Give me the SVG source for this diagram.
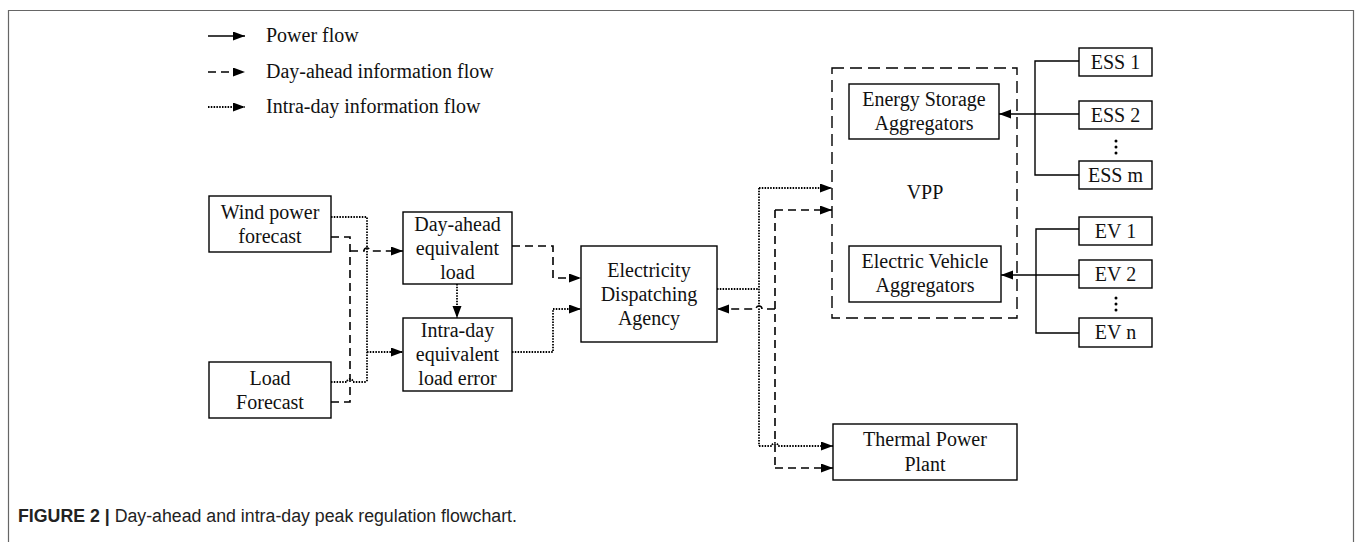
<svg xmlns="http://www.w3.org/2000/svg" width="1356" height="542" viewBox="0 0 1356 542">
<defs>
<marker id="ah" markerUnits="userSpaceOnUse" markerWidth="13" markerHeight="10" refX="12" refY="4.5" orient="auto">
<path d="M0,0 L12,4.5 L0,9 z" fill="#000"/>
</marker>
<style>
.box{fill:#fff;stroke:#000;stroke-width:1.4}
.t{font-family:"Liberation Serif","Times New Roman",serif;font-size:20px;fill:#111;text-anchor:middle}
.lt{font-family:"Liberation Serif","Times New Roman",serif;font-size:20px;fill:#111}
.solid{fill:none;stroke:#000;stroke-width:1.4}
.dash{fill:none;stroke:#000;stroke-width:1.6;stroke-dasharray:8 5}
.dot{fill:none;stroke:#000;stroke-width:1.8;stroke-dasharray:1.5 1.3}
.vpp{fill:none;stroke:#000;stroke-width:1.4;stroke-dasharray:12 6}
</style>
</defs>
<rect width="1356" height="542" fill="#fff"/>
<path d="M8.5,560 V10.5 H1353.5 V560" fill="none" stroke="#666" stroke-width="1.2"/>

<g id="legend">
<line class="solid" x1="208" y1="36" x2="245" y2="36" marker-end="url(#ah)"/>
<text class="lt" x="266" y="42">Power flow</text>
<line class="dash" x1="208" y1="72" x2="245" y2="72" marker-end="url(#ah)"/>
<text class="lt" x="266" y="78">Day-ahead information flow</text>
<line class="dot" x1="208" y1="107" x2="245" y2="107" marker-end="url(#ah)"/>
<text class="lt" x="266" y="113">Intra-day information flow</text>
</g>

<g id="connectors">
<path class="dot" d="M331,217 H367 V382"/>
<path class="dot" d="M331,382 H347 A3,3 0 0 1 353,382 H367"/>
<path class="dot" d="M367,352 H403" marker-end="url(#ah)"/>
<path class="dash" d="M331,237 H350 V402 H331"/>
<path class="dash" d="M350,251 H364 A3,3 0 0 1 370,251 H403" marker-end="url(#ah)"/>
<path class="dot" d="M457,284 V318" marker-end="url(#ah)"/>
<path class="dash" d="M512,246 H553 V278 H581" marker-end="url(#ah)"/>
<path class="dot" d="M512,352 H553 V309 H581" marker-end="url(#ah)"/>
<path class="dot" d="M717,289 H759"/>
<path class="dot" d="M759,188 V446"/>
<path class="dot" d="M759,188 H832" marker-end="url(#ah)"/>
<path class="dot" d="M759,446 H772 A3,3 0 0 1 778,446 H833" marker-end="url(#ah)"/>
<path class="dash" d="M775,210 V468"/>
<path class="dash" d="M775,210 H832" marker-end="url(#ah)"/>
<path class="dash" d="M775,468 H833" marker-end="url(#ah)"/>
<path class="dash" d="M775,309 H762 A3,3 0 0 0 756,309 H717" marker-end="url(#ah)"/>
<path class="solid" d="M1079,61 H1035 V175 H1079"/>
<path class="solid" d="M1079,114 H999" marker-end="url(#ah)"/>
<path class="solid" d="M1079,229 H1036 V333 H1079"/>
<path class="solid" d="M1079,275 H1001" marker-end="url(#ah)"/>
</g>

<g id="wind">
<rect class="box" x="209" y="196" width="122" height="56"/>
<text class="t" x="270" y="219">Wind power</text>
<text class="t" x="270" y="243">forecast</text>
</g>
<g id="load">
<rect class="box" x="209" y="362" width="122" height="56"/>
<text class="t" x="270" y="385">Load</text>
<text class="t" x="270" y="409">Forecast</text>
</g>
<g id="dayahead">
<rect class="box" x="403" y="212" width="109" height="72"/>
<text class="t" x="457.5" y="231">Day-ahead</text>
<text class="t" x="457.5" y="255">equivalent</text>
<text class="t" x="457.5" y="279">load</text>
</g>
<g id="intraday">
<rect class="box" x="403" y="318" width="109" height="73"/>
<text class="t" x="457.5" y="337">Intra-day</text>
<text class="t" x="457.5" y="361">equivalent</text>
<text class="t" x="457.5" y="385">load error</text>
</g>
<g id="eda">
<rect class="box" x="581" y="246" width="136" height="96"/>
<text class="t" x="649" y="277">Electricity</text>
<text class="t" x="649" y="301">Dispatching</text>
<text class="t" x="649" y="325">Agency</text>
</g>
<g id="vpp">
<rect class="vpp" x="832" y="68" width="185" height="250"/>
<text class="t" x="925" y="199">VPP</text>
</g>
<g id="esa">
<rect class="box" x="849" y="84" width="150" height="55"/>
<text class="t" x="924" y="106">Energy Storage</text>
<text class="t" x="924" y="130">Aggregators</text>
</g>
<g id="eva">
<rect class="box" x="849" y="246" width="152" height="56"/>
<text class="t" x="925" y="268">Electric Vehicle</text>
<text class="t" x="925" y="292">Aggregators</text>
</g>
<g id="ess1"><rect class="box" x="1079" y="48" width="73" height="28"/><text class="t" x="1115.5" y="69">ESS 1</text></g>
<g id="ess2"><rect class="box" x="1079" y="101" width="73" height="28"/><text class="t" x="1115.5" y="122">ESS 2</text></g>
<g id="essm"><rect class="box" x="1079" y="161" width="73" height="28"/><text class="t" x="1115.5" y="182">ESS m</text></g>
<g id="essdots" fill="#000"><circle cx="1116" cy="141" r="1.5"/><circle cx="1116" cy="147" r="1.5"/><circle cx="1116" cy="153" r="1.5"/></g>
<g id="ev1"><rect class="box" x="1079" y="217" width="73" height="28"/><text class="t" x="1115.5" y="238">EV 1</text></g>
<g id="ev2"><rect class="box" x="1079" y="260" width="73" height="28"/><text class="t" x="1115.5" y="281">EV 2</text></g>
<g id="evn"><rect class="box" x="1079" y="318" width="73" height="29"/><text class="t" x="1115.5" y="339">EV n</text></g>
<g id="evdots" fill="#000"><circle cx="1116" cy="298" r="1.5"/><circle cx="1116" cy="304" r="1.5"/><circle cx="1116" cy="310" r="1.5"/></g>
<g id="thermal">
<rect class="box" x="833" y="424" width="184" height="56"/>
<text class="t" x="925" y="446">Thermal Power</text>
<text class="t" x="925" y="471">Plant</text>
</g>

<text x="18" y="522" font-family="'Liberation Sans','Arial',sans-serif" font-size="18" fill="#222" textLength="499" lengthAdjust="spacingAndGlyphs"><tspan font-weight="bold">FIGURE 2 |</tspan> Day-ahead and intra-day peak regulation flowchart.</text>
</svg>
